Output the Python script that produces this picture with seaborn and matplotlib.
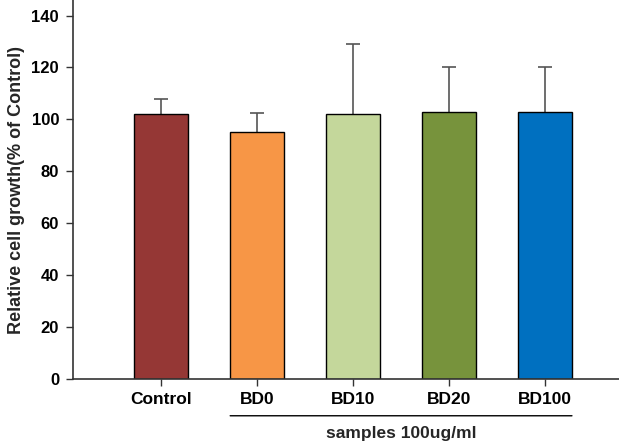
import matplotlib
matplotlib.use("Agg")
import matplotlib.pyplot as plt
import seaborn as sns
import pandas as pd

categories = ["Control", "BD0", "BD10", "BD20", "BD100"]
values = [102, 95.3, 102, 103, 103]
errors = [6, 7, 27, 17, 17]
colors = ["#953735", "#F79646", "#C4D79B", "#77933C", "#0070C0"]
yticks = [0, 20, 40, 60, 80, 100, 120, 140]

sns.set_style("white")
plt.rcParams["font.family"] = ["Liberation Sans", "DejaVu Sans"]
plt.rcParams["font.weight"] = "bold"

df = pd.DataFrame({"cat": categories, "val": values})
fig = plt.figure(figsize=(6.19, 4.48), dpi=100)
ax = fig.add_axes([73/619, 69/448, 1 - 73/619, 1 - 69/448])
sns.barplot(data=df, x="cat", y="val", hue="cat", palette=colors, legend=False,
            saturation=1, width=0.56, edgecolor="black", linewidth=1.0, ax=ax,
            errorbar=None)
eb = ax.errorbar(range(len(categories)), values, yerr=[[0]*5, errors], fmt="none",
                 ecolor="#555555", elinewidth=1.2, capsize=5, capthick=1.2, zorder=0.5)
caps = eb.lines[1]
if len(caps) >= 2:
    caps[0].set_visible(False)
    caps[1].set_color("black")
ax.set_xlim(-0.917, 4.77)
ax.set_ylim(0, 146)
ax.set_yticks(yticks)
ax.set_yticklabels([str(t) for t in yticks], fontsize=12, fontweight="bold")
ax.set_xticks(range(len(categories)))
ax.set_xticklabels(categories, fontsize=12.5, fontweight="bold")
ax.set_xlabel("")
ax.set_ylabel("Relative cell growth(% of Control)", fontsize=13, fontweight="bold", labelpad=5)
for s in ["top", "right"]:
    ax.spines[s].set_visible(False)
for s in ["left", "bottom"]:
    ax.spines[s].set_color("#333333")
    ax.spines[s].set_linewidth(1.2)
ax.tick_params(axis="both", direction="out", length=5, width=1, colors="#333333",
               labelcolor="black", left=True, bottom=True)
ax.tick_params(axis="x", pad=4)
ax.tick_params(axis="y", pad=5)
ax.annotate("", xy=(0.72, -0.097), xycoords=ax.get_xaxis_transform(),
            xytext=(4.28, -0.097), textcoords=ax.get_xaxis_transform(),
            arrowprops=dict(arrowstyle="-", color="black", lw=1.0, shrinkA=0, shrinkB=0))
ax.text(2.5, -0.143, "samples 100ug/ml", transform=ax.get_xaxis_transform(),
        ha="center", va="center", fontsize=12.5, fontweight="bold")
fig.savefig("out.png", dpi=100)
